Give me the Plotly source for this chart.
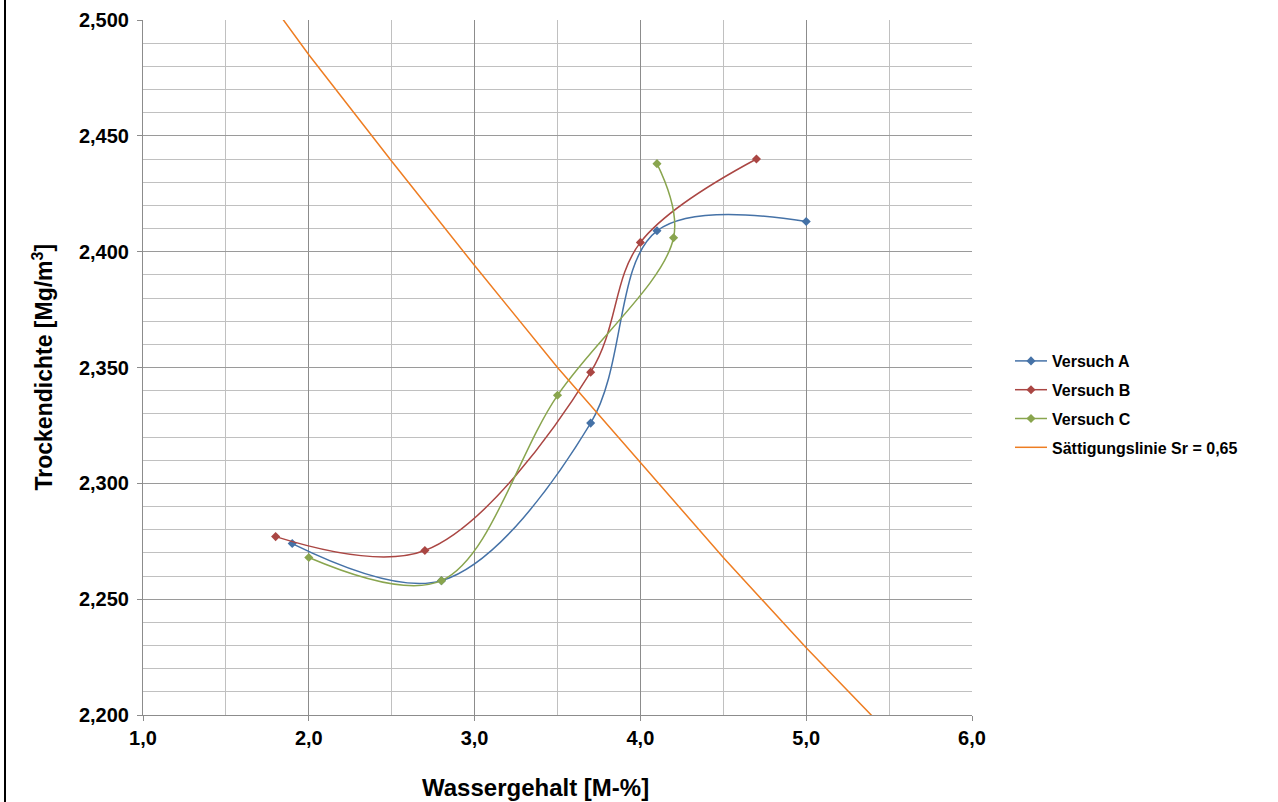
import plotly.graph_objects as go

# ---- data ----
a_x = [1.9, 2.8, 3.7, 4.1, 5.0]
a_y = [2.274, 2.258, 2.326, 2.409, 2.413]

b_x = [1.8, 2.7, 3.7, 4.0, 4.7]
b_y = [2.277, 2.271, 2.348, 2.404, 2.440]

c_x = [2.0, 2.8, 3.5, 4.2, 4.1]
c_y = [2.268, 2.258, 2.338, 2.406, 2.438]

sat_x = [1.5, 2.0, 2.5, 3.0, 3.5, 4.0, 4.5, 5.0, 5.5]
sat_y = [2.534, 2.485, 2.439, 2.394, 2.350, 2.309, 2.268, 2.229, 2.192]

names = ["Versuch A", "Versuch B", "Versuch C", "Sättigungslinie Sr = 0,65"]
colors = ["#4572A7", "#AA4643", "#89A54E", "#EE7D22"]

FONT = "Arial, Liberation Sans, sans-serif"

fig = go.Figure()
for xs, ys, nm, col in zip([a_x, b_x, c_x], [a_y, b_y, c_y], names[:3], colors[:3]):
    fig.add_trace(go.Scatter(
        x=xs, y=ys, name=nm, mode="lines+markers",
        line=dict(color=col, width=1.5, shape="spline", smoothing=1),
        marker=dict(symbol="diamond", size=7, color=col),
        legendgroup=nm,
    ))
fig.add_trace(go.Scatter(
    x=sat_x, y=sat_y, name=names[3], mode="lines",
    line=dict(color=colors[3], width=1.5), legendgroup=names[3],
))

L, R, T, B = 143, 972, 20, 715
W, H = 1278, 802
pw, ph = R - L, B - T

fig.update_layout(
    width=W, height=H,
    margin=dict(l=L, r=W - R, t=T, b=H - B, autoexpand=False),
    paper_bgcolor="white", plot_bgcolor="white",
    separators=",.",
    showlegend=True,
    legend=dict(
        x=(1010 - L) / pw, y=(B - 404.5) / ph, xanchor="left", yanchor="middle",
        font=dict(family=FONT, size=16, color="black", weight="bold"),
        tracegroupgap=5, itemwidth=32, bgcolor="rgba(0,0,0,0)",
    ),
    xaxis=dict(
        range=[1.0, 6.0], dtick=1.0, tick0=1.0, tickformat=".1f",
        showgrid=True, gridcolor="#8C8C8C", gridwidth=1,
        minor=dict(dtick=0.5, showgrid=True, gridcolor="#C0C0C0", gridwidth=1, ticks=""),
        ticks="outside", ticklen=5, tickcolor="#8C8C8C",
        showline=True, linecolor="#8C8C8C", linewidth=1,
        tickfont=dict(family=FONT, size=20, color="black", weight="bold"),
        zeroline=False, mirror=False,
    ),
    yaxis=dict(
        range=[2.2, 2.5], dtick=0.05, tick0=2.2, tickformat=".3f",
        showgrid=True, gridcolor="#9A9A9A", gridwidth=1,
        minor=dict(dtick=0.01, showgrid=True, gridcolor="#C0C0C0", gridwidth=1, ticks=""),
        ticks="outside", ticklen=5, tickcolor="#8C8C8C",
        showline=True, linecolor="#8C8C8C", linewidth=1,
        tickfont=dict(family=FONT, size=20, color="black", weight="bold"),
        ticklabelstandoff=4,
        zeroline=False,
    ),
    annotations=[
        dict(text="Wassergehalt [M-%]", xref="paper", yref="paper",
             x=(535 - L) / pw, y=(B - 787) / ph, xanchor="center", yanchor="middle",
             showarrow=False, font=dict(family=FONT, size=24, color="black", weight="bold")),
        dict(text="Trockendichte [Mg/m<sup>3</sup>]", xref="paper", yref="paper",
             x=(42 - L) / pw, y=0.5, xanchor="center", yanchor="middle", textangle=-90,
             showarrow=False, font=dict(family=FONT, size=23, color="black", weight="bold")),
    ],
    shapes=[
        dict(type="line", xref="paper", yref="paper",
             x0=(5 - L) / pw, x1=(5 - L) / pw, y0=-(H - B) / ph, y1=1 + T / ph,
             line=dict(color="black", width=2)),
    ],
)

fig.write_html("out.html")
